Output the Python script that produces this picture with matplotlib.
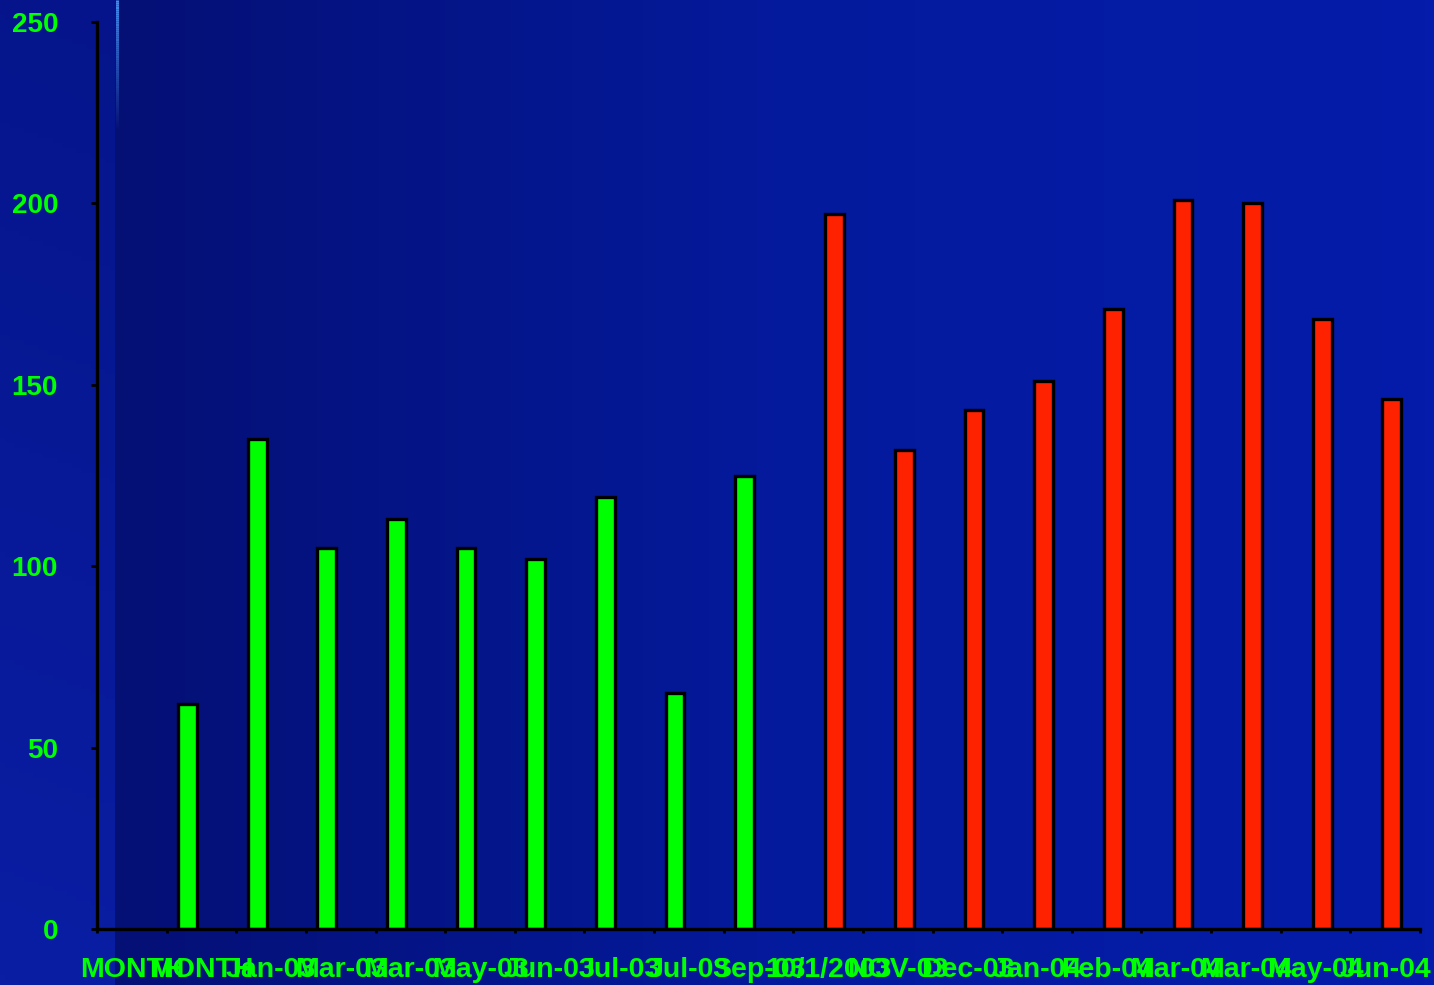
import numpy as np
import matplotlib.pyplot as plt
from matplotlib.colors import LinearSegmentedColormap

# monthly counts, green = first series, red = second series
months = ["MONTH", "MONTH", "Jan-03", "Mar-03", "Mar-03", "May-03", "Jun-03",
          "Jul-03", "Jul-03", "Sep-03", "10/1/2003", "NOV-03", "Dec-03",
          "Jan-04", "Feb-04", "Mar-04", "Mar-04", "May-04", "Jun-04"]
green_vals = [np.nan, 62, 135, 105, 113, 105, 102, 119, 65, 125,
              np.nan, np.nan, np.nan, np.nan, np.nan, np.nan, np.nan, np.nan, np.nan]
red_vals = [np.nan] * 10 + [197, 132, 143, 151, 171, 201, 200, 168, 146]
yticks = [0, 50, 100, 150, 200, 250]

W, H = 1434, 985
fig = plt.figure(figsize=(W / 100, H / 100), dpi=100)

# backdrop: soft diagonal gradient plus a panel shaded left-to-right
bg = fig.add_axes([0, 0, 1, 1], zorder=-2)
bg.set_axis_off()
yy, xx = np.mgrid[0:1:200j, 0:1:300j]
outer = np.clip(0.65 * (1 - yy) + 0.35 * xx, 0, 1)
cm_outer = LinearSegmentedColormap.from_list("o", ["#0a1ea4", "#03107e"])
bg.imshow(outer, cmap=cm_outer, extent=[0, 1, 0, 1], aspect="auto", origin="upper")
panel = np.tile(np.linspace(0, 1, 300), (10, 1))
cm_panel = LinearSegmentedColormap.from_list("p", ["#051075", "#041a9c", "#051caa"])
x0 = 115 / W
bg.imshow(panel, cmap=cm_panel, extent=[x0, 1, 0, 1], aspect="auto")
# faint highlight stripe on the panel edge
n = 60
for i in range(n):
    y1 = 1 - i * 0.13 / n
    bg.plot([x0 + 1.5 / W] * 2, [y1, y1 - 0.13 / n], color="#4a9cff",
            alpha=0.9 * (1 - i / n), lw=2.2, solid_capstyle="butt")
bg.set_xlim(0, 1)
bg.set_ylim(0, 1)

ax = fig.add_axes([97 / W, 56 / H, (1420 - 97) / W, (929 - 22) / H])
ax.patch.set_alpha(0)

x = np.arange(len(months))
bw = 0.27
ax.bar(x - 0.2, green_vals, width=bw, color="#00ff00", edgecolor="black", linewidth=2.4)
ax.bar(x + 0.095, red_vals, width=bw, color="#ff2200", edgecolor="black", linewidth=2.4)

ax.set_xlim(-0.5, len(months) - 0.5)
ax.set_ylim(0, 250)
for s in ["top", "right"]:
    ax.spines[s].set_visible(False)
for s in ["left", "bottom"]:
    ax.spines[s].set_linewidth(2.4)
    ax.spines[s].set_color("black")

ax.set_yticks(yticks)
ax.set_yticklabels([str(v) for v in yticks])
ax.tick_params(axis="y", length=4, width=2, color="black", pad=24,
               labelsize=20, labelcolor="#00ff00")
for t in ax.get_yticklabels():
    t.set_fontweight("bold")
    t.set_family("Liberation Sans")

ax.set_xticks(np.arange(len(months) + 1) - 0.5)
ax.set_xticklabels([])
ax.tick_params(axis="x", which="major", length=3, width=2, color="black")
ax.set_xticks(x, minor=True)
ax.set_xticklabels(months, minor=True)
ax.tick_params(axis="x", which="minor", length=0, pad=20,
               labelsize=20.5, labelcolor="#00ff00")
for t in ax.get_xticklabels(minor=True):
    t.set_fontweight("bold")
    t.set_family("Liberation Sans")

fig.savefig("out.png", dpi=100)
